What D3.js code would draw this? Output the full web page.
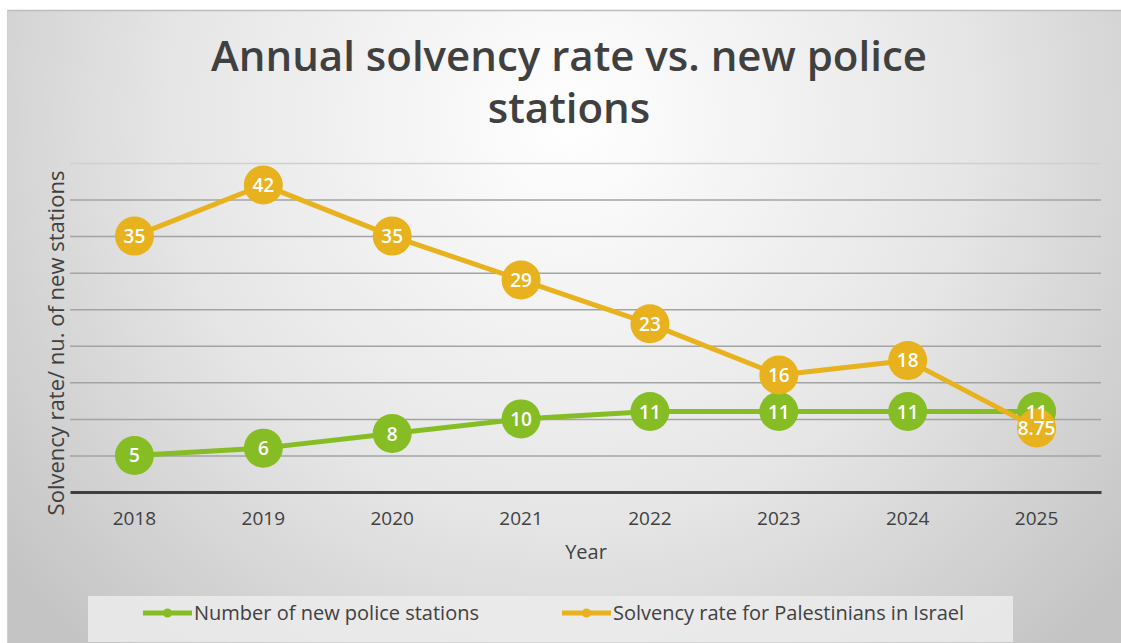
<!DOCTYPE html>
<html>
<head>
<meta charset="utf-8">
<script src="https://cdn.jsdelivr.net/npm/d3@7"></script>
<style>
  html, body { margin: 0; padding: 0; background: #fff; }
  svg { display: block; }
  text { font-family: "Open Sans", "DejaVu Sans", sans-serif; }
</style>
</head>
<body>
<svg id="chart" width="1121" height="643"></svg>
<script>
// Chart data
const years = ["2018", "2019", "2020", "2021", "2022", "2023", "2024", "2025"];
const stations = [5, 6, 8, 10, 11, 11, 11, 11];
const solvency = [35, 42, 35, 29, 23, 16, 18, 8.75];
const seriesNames = ["Number of new police stations", "Solvency rate for Palestinians in Israel"];
const seriesColors = ["#86bd25", "#e7b21d"];
const yTicks = [0, 5, 10, 15, 20, 25, 30, 35, 40, 45];
const titleLines = ["Annual solvency rate vs. new police", "stations"];
const xTitle = "Year";
const yTitle = "Solvency rate/ nu. of new stations";

const W = 1121, H = 643;
const svg = d3.select("#chart");

// Background panel with a soft radial shading
const defs = svg.append("defs");
const grad = defs.append("radialGradient")
  .attr("id", "bg").attr("gradientUnits", "userSpaceOnUse")
  .attr("cx", 570).attr("cy", 120).attr("r", 720);
grad.append("stop").attr("offset", "0%").attr("stop-color", "#ffffff");
grad.append("stop").attr("offset", "55%").attr("stop-color", "#e6e6e6");
grad.append("stop").attr("offset", "100%").attr("stop-color", "#c4c4c4");

svg.append("rect").attr("x", 0).attr("y", 0).attr("width", W).attr("height", H).attr("fill", "#ffffff");
svg.append("rect").attr("x", 7).attr("y", 10).attr("width", W - 7).attr("height", H - 10)
  .attr("fill", "url(#bg)");
svg.append("line").attr("x1", 7).attr("x2", W).attr("y1", 10.5).attr("y2", 10.5)
  .attr("stroke", "#bdbdbd").attr("stroke-width", 1.5);
svg.append("line").attr("x1", 7.5).attr("x2", 7.5).attr("y1", 10).attr("y2", H)
  .attr("stroke", "#cfcfcf").attr("stroke-width", 1);

// Scales
const plot = { left: 70, right: 1101, top: 163, bottom: 492 };
const x = d3.scaleBand().domain(years).range([plot.left, plot.right]);
const cx = d => x(d) + x.bandwidth() / 2;
const y = d3.scaleLinear().domain([0, 45]).range([plot.bottom, plot.top]);

// Title
const title = svg.append("text")
  .attr("text-anchor", "middle")
  .attr("fill", "#404040")
  .style("font-size", "42px")
  .style("font-weight", "600");
title.selectAll("tspan").data(titleLines).join("tspan")
  .attr("x", 569)
  .attr("y", (d, i) => 71 + i * 52)
  .text(d => d);

// Horizontal gridlines
const yAxis = d3.axisLeft(y).tickValues(yTicks.slice(1))
  .tickSize(-(plot.right - plot.left)).tickFormat("");
const gy = svg.append("g").attr("transform", `translate(${plot.left},0)`).call(yAxis);
gy.select(".domain").remove();
gy.selectAll(".tick line").attr("stroke", "#a3a3a3").attr("stroke-width", 1.5);
gy.selectAll(".tick").filter(d => d === 45).select("line").attr("stroke", "#d0d0d0");

// X axis
const xAxis = d3.axisBottom(x).tickSize(0).tickPadding(20);
const gx = svg.append("g").attr("transform", `translate(0,${plot.bottom})`).call(xAxis);
gx.select(".domain").attr("stroke", "#3f3f3f").attr("stroke-width", 3);
gx.selectAll(".tick text")
  .attr("fill", "#404040")
  .style("font-size", "19px")
  .style("font-family", "\"Open Sans\", sans-serif");

// Axis titles
svg.append("text")
  .attr("x", 586).attr("y", 559)
  .attr("text-anchor", "middle")
  .attr("fill", "#404040")
  .style("font-size", "20px")
  .text(xTitle);
svg.append("text")
  .attr("transform", `translate(64,343) rotate(-90)`)
  .attr("text-anchor", "middle")
  .attr("fill", "#404040")
  .style("font-size", "22px")
  .text(yTitle);

// Series lines and markers
const series = [stations, solvency];
const line = d3.line().x((d, i) => cx(years[i])).y(d => y(d));
const r = 19.5;

series.forEach((vals, s) => {
  const g = svg.append("g");
  g.append("path").datum(vals)
    .attr("d", line)
    .attr("fill", "none")
    .attr("stroke", seriesColors[s])
    .attr("stroke-width", 5)
    .attr("stroke-linejoin", "round");
  g.selectAll("circle").data(vals).join("circle")
    .attr("cx", (d, i) => cx(years[i]))
    .attr("cy", d => y(d))
    .attr("r", r)
    .attr("fill", seriesColors[s]);
});

// Value labels on markers
series.forEach((vals) => {
  svg.append("g").selectAll("text").data(vals).join("text")
    .attr("x", (d, i) => cx(years[i]))
    .attr("y", d => y(d) + 7)
    .attr("text-anchor", "middle")
    .attr("fill", "#ffffff")
    .style("font-size", "19px")
    .style("font-weight", "600")
    .text(d => d);
});

// Legend
const legend = svg.append("g");
legend.append("rect")
  .attr("x", 88).attr("y", 596).attr("width", 925).attr("height", 46)
  .attr("fill", "#ececec").attr("opacity", 0.85);
const legendItems = [
  { x0: 143, name: seriesNames[0], color: seriesColors[0] },
  { x0: 562, name: seriesNames[1], color: seriesColors[1] }
];
legendItems.forEach(it => {
  legend.append("line")
    .attr("x1", it.x0).attr("x2", it.x0 + 49)
    .attr("y1", 613).attr("y2", 613)
    .attr("stroke", it.color).attr("stroke-width", 5);
  legend.append("circle")
    .attr("cx", it.x0 + 24.5).attr("cy", 613).attr("r", 4.5)
    .attr("fill", it.color);
  legend.append("text")
    .attr("x", it.x0 + 51).attr("y", 620)
    .attr("fill", "#404040")
    .style("font-size", "20px")
    .text(it.name);
});
</script>
</body>
</html>
